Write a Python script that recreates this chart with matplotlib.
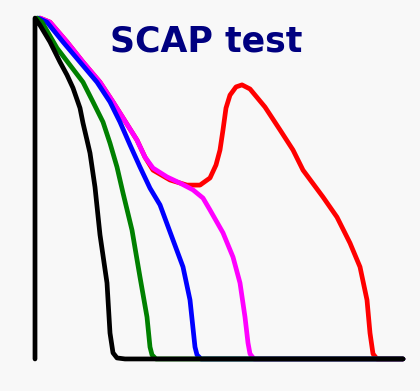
import numpy as np
import matplotlib
matplotlib.use('Agg')
import matplotlib.pyplot as plt

# Curves: x in arbitrary time units, y normalised to peak
x_black = [0, 0, 5, 15, 25, 32, 38, 45, 48, 52, 55, 60, 65, 72, 75, 78, 82, 90, 368]
y_black = [0, 1.0, 0.979, 0.93, 0.871, 0.833, 0.795, 0.736, 0.692, 0.642, 0.604, 0.504,
           0.364, 0.223, 0.076, 0.018, 0.003, 0, 0]

x_green = [2, 7, 22, 35, 48, 58, 68, 75, 82, 88, 97, 105, 112, 115, 117, 121, 368]
y_green = [1.0, 0.988, 0.912, 0.862, 0.812, 0.754, 0.695, 0.633, 0.563, 0.487, 0.378,
           0.24, 0.123, 0.035, 0.012, 0, 0]

x_blue = [3, 12, 28, 45, 62, 75, 85, 95, 105, 115, 125, 138, 148, 155, 160, 162, 166, 368]
y_blue = [1.0, 0.988, 0.93, 0.871, 0.812, 0.754, 0.695, 0.628, 0.563, 0.501, 0.452,
          0.349, 0.27, 0.173, 0.035, 0.012, 0, 0]

x_magenta = [5, 15, 32, 48, 65, 78, 90, 102, 110, 118, 132, 145, 158, 168, 175, 188, 198,
             205, 210, 213, 215, 219, 368]
y_magenta = [1.0, 0.988, 0.93, 0.871, 0.812, 0.754, 0.698, 0.642, 0.592, 0.56, 0.534,
             0.516, 0.496, 0.472, 0.437, 0.37, 0.299, 0.223, 0.123, 0.047, 0.015, 0, 0]

x_red = [5, 15, 32, 48, 65, 78, 90, 102, 110, 118, 135, 152, 165, 175, 181, 185, 188, 191,
         195, 201, 207, 215, 230, 245, 258, 268, 288, 302, 315, 325, 332, 335, 338, 342, 368]
y_red = [1.0, 0.988, 0.93, 0.871, 0.812, 0.754, 0.698, 0.642, 0.592, 0.554, 0.525, 0.51,
         0.51, 0.531, 0.569, 0.613, 0.672, 0.736, 0.774, 0.798, 0.804, 0.792, 0.739, 0.672,
         0.613, 0.554, 0.475, 0.416, 0.34, 0.27, 0.173, 0.076, 0.015, 0, 0]

bg = '#f8f8f8'
fig = plt.figure(figsize=(4.2, 3.91), dpi=100, facecolor=bg)
ax = fig.add_axes([0, 0, 1, 1])
ax.set_facecolor(bg)

style = dict(lw=3.4, solid_joinstyle='round', solid_capstyle='round')
ax.plot(x_red, y_red, color='#ff0000', **style)
ax.plot(x_magenta, y_magenta, color='#ff00ff', **style)
ax.plot(x_blue, y_blue, color='#0000ff', **style)
ax.plot(x_green, y_green, color='#008000', **style)
ax.plot(x_black, y_black, color='black', **style)

ax.set_xlim(-35, 385)
ax.set_ylim(-0.094, 1.053)
ax.axis('off')

fig.text(0.492, 0.893, 'SCAP test', ha='center', va='center', fontsize=25,
         fontweight='bold', color='#000080')

fig.savefig('out.png', dpi=100, facecolor=bg)
